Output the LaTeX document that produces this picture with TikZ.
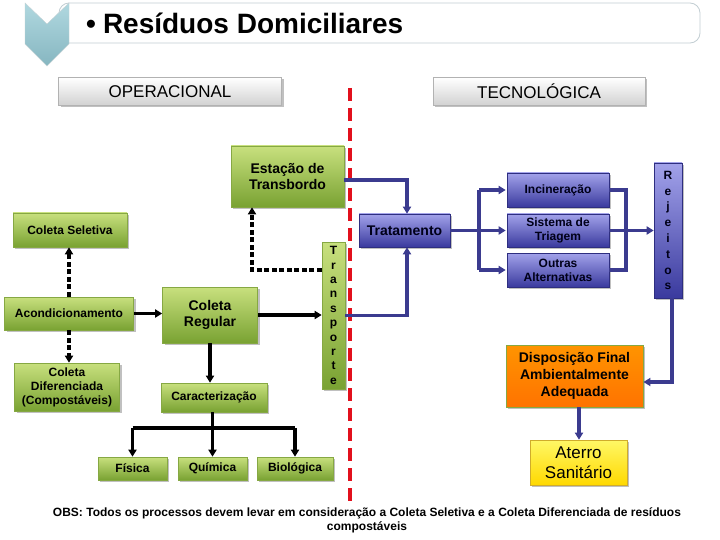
\documentclass[tikz,border=0pt]{standalone}
\usepackage{fontspec}
\setmainfont{Liberation Sans}
\usetikzlibrary{shadows,arrows.meta,calc}
\definecolor{gtop}{HTML}{C8E07E}
\definecolor{gbot}{HTML}{79A232}
\definecolor{gline}{HTML}{86A843}
\definecolor{btop}{HTML}{A2A2EA}
\definecolor{bbot}{HTML}{3A3A9E}
\definecolor{bline}{HTML}{2E2E80}
\definecolor{conn}{HTML}{3B3B8F}
\definecolor{redl}{HTML}{E2101C}
\definecolor{ctop}{HTML}{B0D8E0}
\definecolor{cbot}{HTML}{86B6C0}
\tikzset{
  shad/.style={drop shadow={shadow xshift=2pt,shadow yshift=-2pt,opacity=0.35,fill=black!70}},
  gbox/.style={shad,draw=gline,line width=0.6pt,top color=gtop,bottom color=gbot,
    inner sep=0pt,align=center,font=\fontsize{12}{14}\selectfont\bfseries},
  bbox/.style={shad,draw=bline,line width=0.6pt,top color=btop,bottom color=bbot,
    inner sep=0pt,align=center,text=black!90!blue,font=\fontsize{12}{14}\selectfont\bfseries},
  btn/.style={shad,draw=black!30,line width=0.5pt,top color=white,bottom color=black!18,
    inner sep=0pt,font=\fontsize{17}{19}\selectfont},
  blk/.style={line width=3.2pt,black},
  blkd/.style={line width=3.2pt,black,dash pattern=on 5pt off 2.5pt},
  bl/.style={line width=3.2pt,conn},
  tip/.style={-{Triangle[length=7pt,width=8pt]}},
}
\begin{document}
\begin{tikzpicture}[x=1pt,y=-1pt]
\useasboundingbox (0,0) rectangle (720,540);
\fill[white] (0,0) rectangle (720,540);
% title banner
\node[draw=black!20!cyan!25!gray!45,line width=0.8pt,rounded corners=10pt,fill=white,
  minimum width=641pt,minimum height=40pt,inner sep=0pt] (banner) at (379.5,23) {};
\shade[top color=ctop,bottom color=cbot,draw=cbot!80!black!40]
  (25,3) -- (47,24) -- (69,3) -- (69,44) -- (47,66) -- (25,44) -- cycle;
\node[anchor=west,inner sep=0pt,font=\fontsize{28}{32}\selectfont\bfseries] (title) at (86,23) {•\hspace{7pt}Resíduos Domiciliares};
% headers
\node[btn,minimum width=223pt,minimum height=28pt] (oper) at (170,91.5) {OPERACIONAL};
\node[btn,minimum width=212pt,minimum height=28pt] (tecno) at (539,91.5) {TECNOLÓGICA};
% red divider
\coordinate (rtop) at (350,88);
\coordinate (rbot) at (350,503);
\draw[redl,line width=4.5pt,dash pattern=on 13pt off 7pt] (rtop) -- (rbot);
% green boxes
\node[gbox,minimum width=113pt,minimum height=61pt,font=\fontsize{14}{16.5}\selectfont\bfseries] (estacao) at (287.5,176.5) {Estação de\\Transbordo};
\node[gbox,minimum width=114pt,minimum height=34pt] (seletiva) at (70,230) {Coleta Seletiva};
\node[gbox,minimum width=129pt,minimum height=33pt] (acond) at (69,313.5) {Acondicionamento};
\node[gbox,minimum width=95pt,minimum height=56pt,font=\fontsize{14}{16.5}\selectfont\bfseries] (regular) at (210,315) {Coleta\\Regular};
\node[gbox,minimum width=23pt,minimum height=147pt,font=\fontsize{12}{14.4}\selectfont\bfseries] (transp) at (333.5,315.5) {T\\r\\a\\n\\s\\p\\o\\r\\t\\e};
\node[gbox,minimum width=105pt,minimum height=48pt] (difer) at (67,387) {Coleta\\Diferenciada\\(Compostáveis)};
\node[gbox,minimum width=106pt,minimum height=29pt] (caract) at (214,397.5) {Caracterização};
\node[gbox,minimum width=69pt,minimum height=23pt] (fisica) at (132.5,468.5) {Física};
\node[gbox,minimum width=69pt,minimum height=23pt] (quimica) at (212.5,468.5) {Química};
\node[gbox,minimum width=76pt,minimum height=23pt] (bio) at (295,468.5) {Biológica};
% blue boxes
\node[bbox,minimum width=91pt,minimum height=33pt,font=\fontsize{14}{16}\selectfont\bfseries] (trat) at (404.5,230.5) {Tratamento};
\node[bbox,minimum width=102pt,minimum height=34pt] (incin) at (558,190) {Incineração};
\node[bbox,minimum width=102pt,minimum height=33pt] (triagem) at (558,230.5) {Sistema de\\Triagem};
\node[bbox,minimum width=102pt,minimum height=34pt] (outras) at (558,270) {Outras\\Alternativas};
\node[bbox,minimum width=28pt,minimum height=135pt,font=\fontsize{12}{15.8}\selectfont\bfseries] (rejeitos) at (668,230.5) {R\\e\\j\\e\\i\\t\\o\\s};
% final boxes
\node[shad,draw=gline,line width=0.8pt,top color=orange!80!red!70!yellow,bottom color=orange!90!red,
  minimum width=137pt,minimum height=62pt,inner sep=0pt,align=center,
  font=\fontsize{14}{17}\selectfont\bfseries] (dispos) at (574.5,376) {Disposição Final\\Ambientalmente\\Adequada};
\node[shad,draw=yellow!60!orange!80!black,line width=0.6pt,top color=yellow!90!orange!60,bottom color=yellow!70!orange,
  minimum width=97pt,minimum height=45pt,inner sep=0pt,align=center,
  font=\fontsize{17}{20}\selectfont] (aterro) at (578.5,462.5) {Aterro\\Sanitário};
% black connectors
\draw[blkd,tip] (acond.north) -- (acond.north |- seletiva.south);
\draw[blkd,tip] (acond.south) -- (acond.south |- difer.north);
\draw[blk,tip] (acond.east) -- (regular.west |- acond.east);
\draw[blk,tip] (regular.east) -- (transp.west |- regular.east);
\coordinate (dl) at ($(transp.west)+(0,-45.5)$);
\draw[blkd,tip] (dl) -| ([xshift=-35.5pt]estacao.south);
\draw[blk,tip] (regular.south) -- (regular.south |- caract.north);
\coordinate (br) at (212.5,428);
\draw[blk] (caract.south -| br) -- (br);
\draw[blk] (fisica.north |- br) -- (bio.north |- br);
\draw[blk,tip] (fisica.north |- br) -- (fisica.north);
\draw[blk,tip] (quimica.north |- br) -- (quimica.north);
\draw[blk,tip] (bio.north |- br) -- (bio.north);
% blue connectors
\draw[bl,tip] ([yshift=-3.5pt]estacao.east) -| ([xshift=2.5pt]trat.north);
\draw[bl,tip] (transp.east) -| ([xshift=2.5pt]trat.south);
\coordinate (sp) at (479,230.5);
\draw[bl] (trat.east) -- (sp);
\draw[bl] (sp |- incin.west) -- (sp |- outras.west);
\draw[bl,tip] (sp |- incin.west) -- ([xshift=-1pt]incin.west);
\draw[bl,tip] (sp) -- ([xshift=-1pt]triagem.west);
\draw[bl,tip] (sp |- outras.west) -- ([xshift=-1pt]outras.west);
\coordinate (jn) at (626,190);
\draw[bl] (incin.east) -- (jn) -- (jn |- outras.east) -- (outras.east);
\draw[bl,tip] (triagem.east) -- (rejeitos.west);
\draw[bl,tip] ([xshift=4pt]rejeitos.south) |- ([yshift=-6pt]dispos.east);
\draw[bl,tip] ([xshift=4.5pt]dispos.south) -- ([xshift=0.5pt]aterro.north);
% note
\node[align=center,inner sep=0pt,font=\fontsize{12}{14}\selectfont\bfseries] (obs) at (367,520.5)
  {OBS: Todos os processos devem levar em consideração a Coleta Seletiva e a Coleta Diferenciada de resíduos\\compostáveis};
\end{tikzpicture}
\end{document}
